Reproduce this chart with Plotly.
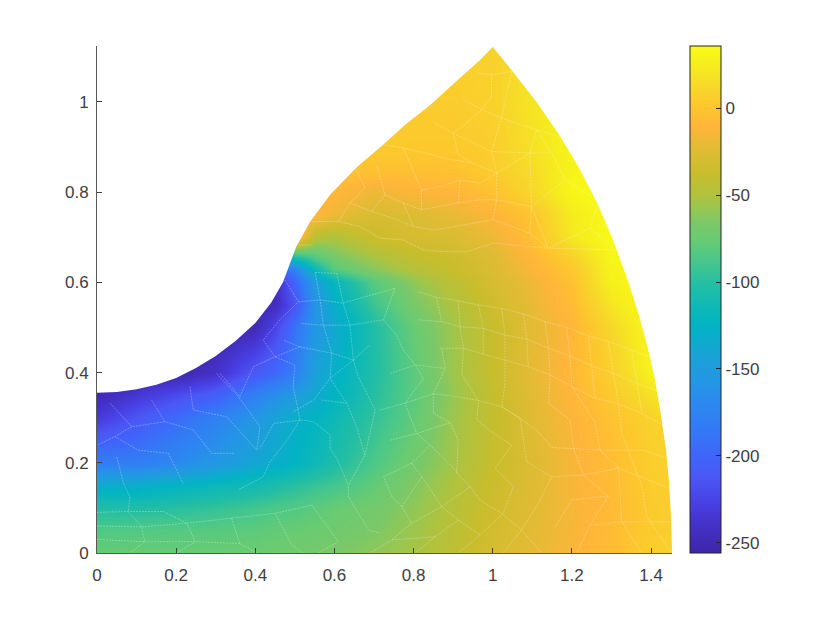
import plotly.graph_objects as go

# field, rows go bottom to top
grid_x = [0, 0.1, 0.2, 0.3, 0.4, 0.45, 0.5, 0.55, 0.6, 0.7, 0.8, 0.9, 1.0, 1.1, 1.2, 1.3, 1.4, 1.5]
grid_y = [0, 0.05, 0.1, 0.15, 0.2, 0.3, 0.35, 0.4, 0.5, 0.55, 0.6, 0.63, 0.65, 0.7, 0.75, 0.8, 0.85, 0.9, 1.0, 1.13]
grid_z = [
    [-76, -76, -76, -75, -74, -72, -70, -68, -66, -60, -53, -43, -30, -21, -13, -5, 6, 9],
    [-85, -84, -83, -82, -80, -78, -76, -74, -72, -66, -56, -45, -32, -23, -14, -6, 4, 8],
    [-103, -103, -100, -95, -90, -86, -84, -80, -76, -70, -60, -47, -34, -24, -14, -7, 4, 8],
    [-132, -132, -125, -118, -112, -106, -100, -94, -90, -78, -64, -50, -36, -25, -14, -6, 5, 8],
    [-180, -180, -170, -155, -140, -132, -125, -115, -105, -86, -70, -54, -38, -26, -14, -5, 6, 10],
    [-232, -212, -196, -178, -157, -143, -130, -125, -115, -96, -78, -56, -40, -24, -12, -2, 9, 12],
    [-250, -235, -220, -205, -178, -165, -150, -137, -125, -100, -80, -58, -40, -23, -10, 3, 18, 24],
    [-254, -254, -254, -240, -210, -198, -180, -145, -130, -103, -80, -56, -38, -21, -8, 7, 28, 33],
    [-254, -254, -254, -254, -248, -225, -190, -155, -138, -103, -75, -55, -38, -23, -10, 12, 33, 35],
    [-254, -254, -254, -254, -250, -245, -215, -160, -130, -92, -68, -50, -34, -20, -6, 20, 35, 35],
    [-254, -254, -254, -254, -250, -245, -200, -150, -120, -82, -60, -44, -30, -17, -2, 28, 35, 35],
    [-254, -254, -254, -254, -230, -210, -175, -115, -82, -62, -47, -37, -27, -12, 2, 30, 35, 35],
    [-254, -254, -254, -254, -200, -170, -120, -90, -72, -55, -42, -36, -26, -10, 6, 31, 35, 35],
    [5, 5, 5, 5, 5, 5, 5, -45, -50, -35, -30, -28, -18, -3, 22, 35, 35, 35],
    [-10, -10, -10, -10, -10, -10, -10, -10, -18, -30, -27, -20, -12, 0, 24, 35, 35, 35],
    [-8, -8, -8, -8, -8, -8, -8, -8, -8, -18, -12, -10, -2, 12, 32, 35, 35, 35],
    [-2, -2, -2, -2, -2, -2, -2, -2, -2, -2, -3, -2, 5, 15, 30, 35, 35, 35],
    [3, 3, 3, 3, 3, 3, 3, 3, 3, 3, 3, 3, 6, 18, 30, 35, 35, 35],
    [5, 5, 5, 5, 5, 5, 5, 5, 5, 5, 5, 5, 8, 20, 30, 35, 35, 35],
    [8, 8, 8, 8, 8, 8, 8, 8, 8, 8, 8, 8, 8, 20, 30, 35, 35, 35],
]

# outline of the domain
edge_x = [0, 0.05, 0.1, 0.15, 0.2, 0.25, 0.3, 0.35, 0.4, 0.44, 0.47, 0.49, 0.503, 0.538, 0.589, 0.657, 0.723, 0.778, 0.842,
          0.917, 0.968, 1.0, 1.051, 1.112, 1.168, 1.218, 1.264, 1.304, 1.339, 1.367, 1.39, 1.41, 1.425, 1.438, 1.446, 1.451, 1.453]
edge_y = [0.355, 0.357, 0.363, 0.373, 0.388, 0.41, 0.437, 0.47, 0.51, 0.555, 0.6, 0.645, 0.678, 0.734, 0.794, 0.856, 0.905, 0.949, 0.993,
          1.053, 1.093, 1.122, 1.067, 0.998, 0.927, 0.854, 0.776, 0.694, 0.61, 0.534, 0.461, 0.384, 0.306, 0.228, 0.151, 0.073, 0]
outside_x = [1.6, 1.6, -0.1, -0.1]
outside_y = [0, 1.3, 1.3, 0.355]

# element edges showing through the surface
seams = [
    [(.812, .579), (.858, .567), (.913, .559), (.964, .550), (1.023, .542), (1.078, .530), (1.132, .513), (1.187, .500), (1.242, .481), (1.292, .469), (1.351, .450), (1.402, .432)],
    [(.812, .517), (.871, .513), (.917, .502), (.976, .498), (1.031, .483), (1.086, .474), (1.141, .454), (1.195, .437), (1.250, .415), (1.305, .398), (1.364, .376), (1.419, .358)],
    [(.867, .454), (.926, .454), (.976, .441), (1.031, .428), (1.090, .413), (1.145, .395), (1.200, .369), (1.259, .343), (1.313, .332), (1.377, .310), (1.436, .280)],
    [(.850, .353), (.905, .347), (.964, .338), (1.023, .324), (1.069, .299), (1.115, .269), (1.149, .234), (1.204, .232), (1.276, .228), (1.381, .228), (1.441, .210)],
    [(.871, .454), (.880, .409), (.850, .353), (.850, .310), (.892, .289), (.913, .250), (.909, .177), (.943, .147), (.968, .117), (1.023, .088), (1.073, .051), (1.124, 0)],
    [(.917, .502), (.926, .454), (.922, .395), (.964, .338), (.960, .295), (.997, .269), (1.048, .239), (1.006, .188), (1.052, .147), (1.027, .088), (.968, .040), (.913, 0)],
    [(1.031, .483), (1.031, .432), (1.031, .376), (1.023, .324), (1.069, .299), (1.086, .202), (1.149, .169), (1.115, .110), (1.073, .051)],
    [(1.141, .454), (1.145, .395), (1.141, .332), (1.195, .295), (1.204, .232), (1.229, .173), (1.292, .126), (1.246, .062), (1.212, 0)],
    [(1.195, .437), (1.200, .369), (1.259, .289), (1.271, .228), (1.318, .188), (1.326, .069), (1.377, 0)],
    [(1.305, .398), (1.318, .332), (1.326, .265), (1.377, .149), (1.389, .081), (1.452, 0)],
    [(1.158, .058), (1.200, .118), (1.292, .126)],
    [(1.027, 0), (1.073, .051)],
    [(1.246, .062), (1.326, .069), (1.452, .069)],
    [(1.149, .169), (1.229, .173), (1.318, .188), (1.448, .143)],
    [(.083, .125), (.079, .092), (.113, .058), (.121, .025), (.083, 0)],
    [(.168, .092), (.227, .066), (.248, .025), (.201, 0)],
    [(.340, .077), (.361, .021), (.404, 0)],
    [(.450, .088), (.492, .018), (.521, 0)],
    [(.543, .106), (.610, .025), (.559, 0)],
    [(.635, .147), (.635, .125), (.686, .051), (.715, .044)],
    [(.050, .213), (.067, .154), (.083, .125)],
    [(.513, .295), (.480, .250), (.437, .202), (.420, .169), (.357, .140)],
    [(.635, .150), (.606, .210), (.589, .232), (.589, .262), (.547, .291), (.517, .295), (.446, .287), (.412, .232)],
    [(.677, .217), (.656, .280), (.631, .332), (.589, .387), (.547, .339), (.496, .313)],
    [(.311, .398), (.361, .347), (.395, .413), (.450, .435), (.513, .457)],
    [(.450, .435), (.420, .472), (.462, .517), (.509, .557), (.475, .605)],
    [(.513, .457), (.471, .472)],
    [(.509, .557), (.564, .561), (.622, .554)],
    [(.551, .622), (.606, .620)],
    [(.917, .827), (.968, .820), (1.010, .842), (1.052, .864), (1.094, .887), (1.149, .887)],
    [(.820, .805), (.871, .813), (.917, .827)],
    [(.774, .776), (.820, .761), (.913, .776), (.968, .783), (1.010, .783), (1.098, .768), (1.183, .827)],
    [(.728, .794), (.774, .776), (.799, .724), (.850, .716), (.905, .724), (1.001, .739), (1.094, .709), (1.140, .676)],
    [(.639, .776), (.694, .757), (.749, .742), (.799, .724)],
    [(.610, .735), (.664, .724), (.715, .698), (.774, .694), (.825, .672), (.879, .668), (.934, .668), (1.001, .687), (1.090, .680)],
    [(.723, .905), (.774, .898), (.829, .887), (.879, .875), (.951, .864), (1.010, .842)],
    [(.854, .953), (.900, .931), (.951, .909), (.997, .890), (1.094, .887)],
    [(.926, 1.005), (.972, .983), (1.022, .964), (1.111, .938), (1.170, .923)],
    [(.959, 1.064), (.997, 1.060), (1.048, 1.068)],
    [(.997, 1.060), (.997, 1.012), (.972, .983), (.934, .953), (.900, .931), (.913, .883), (.951, .864)],
    [(1.048, 1.068), (1.022, .964), (.997, .890), (1.010, .842), (1.010, .783)],
    [(1.111, .938), (1.094, .887), (1.098, .768), (1.140, .676)],
    [(1.183, .827), (1.149, .887), (1.111, .938)],
    [(1.183, .827), (1.267, .779), (1.246, .720), (1.140, .676)],
    [(1.246, .720), (1.313, .672)],
    [(.917, .827), (.913, .776)],
    [(.820, .805), (.820, .761)],
    [(.774, .898), (.820, .805)],
    [(.707, .857), (.728, .794), (.694, .757)],
    [(.656, .850), (.677, .809), (.639, .776), (.610, .735)],
    [(.542, .735), (.610, .735)],
    [(.509, .683), (.542, .683)],
    [(.753, .587), (.724, .517), (.757, .483), (.774, .450), (.804, .417), (.825, .387), (.778, .332), (.808, .265), (.842, .239), (.913, .177)],
    [(.741, .398), (.804, .417), (.880, .409)],
    [(.715, .317), (.778, .332), (.850, .353)],
    [(.741, .250), (.808, .265), (.892, .289)],
    [(.745, .125), (.770, .103), (.795, .066), (.745, .029), (.690, 0)],
    [(.795, .199), (.821, .169), (.770, .103)],
    [(.795, .199), (.724, .169), (.745, .125)],
    [(.842, .239), (.795, .199)],
    [(.821, .169), (.871, .103), (.913, .073), (.968, .040)],
    [(.871, .103), (.795, .066)],
    [(.913, .073), (.854, .036), (.804, 0)],
    [(.745, .029), (.854, .036)],
    [(.943, .147), (.871, .103)],
    [(.450, .435), (.500, .417), (.496, .369), (.513, .295)],
    [(.302, .398), (.357, .347), (.412, .280), (.404, .228)],
    [(.235, .369), (.243, .317), (.328, .302), (.404, .228)],
    [(.138, .339), (.172, .291), (.243, .273), (.290, .221), (.349, .221)],
    [(.033, .332), (.088, .280), (.172, .291)],
    [(.045, .258), (.104, .228), (.180, .221), (.218, .154)],
    [(.088, .280), (.045, .258), (0, .239)],
    [(.589, .387), (.648, .428), (.690, .461)],
    [(.648, .428), (.660, .391), (.703, .317), (.677, .217), (.635, .150)],
    [(.568, .339), (.631, .332)],
    [(0, .09), (.079, .092), (.168, .092)],
    [(0, .06), (.113, .058), (.227, .066)],
    [(0, .03), (.121, .025), (.248, .025), (.361, .021)],
    [(.227, .066), (.340, .077), (.450, .088), (.543, .106)],
    [(.551, .622), (.564, .561), (.572, .505), (.593, .443), (.589, .387)],
    [(.606, .620), (.622, .554), (.639, .505), (.648, .428)],
    [(.517, .509), (.572, .505), (.639, .505), (.724, .517)],
    [(.513, .457), (.593, .443), (.648, .428)],
    [(.622, .554), (.753, .587)],
    [(1.402, .432), (1.419, .358), (1.436, .280)],
    [(1.351, .450), (1.364, .376), (1.377, .310)],
    [(1.292, .469), (1.305, .398)],
    [(1.242, .481), (1.250, .415), (1.259, .343)],
    [(1.187, .500), (1.195, .437)],
    [(1.132, .513), (1.141, .454)],
    [(1.078, .530), (1.086, .474), (1.090, .413)],
    [(1.023, .542), (1.031, .483)],
    [(.964, .550), (.976, .498), (.976, .441)],
    [(.913, .559), (.917, .502)],
    [(.858, .567), (.871, .513)],
    [(1.001, .739), (1.010, .783)],
    [(1.094, .709), (1.098, .768)],
    [(1.090, .680), (1.140, .676), (1.313, .672)],
]

z_min = -256
z_max = 36
bar_ticks = [0, -50, -100, -150, -200, -250]
bar_labels = ["0", "-50", "-100", "-150", "-200", "-250"]
x_ticks = [0, 0.2, 0.4, 0.6, 0.8, 1, 1.2, 1.4]
y_ticks = [0, 0.2, 0.4, 0.6, 0.8, 1]

parula = [
    [0.0, "#3e26a8"], [0.05, "#4430c5"], [0.1, "#4840e4"], [0.15, "#4a58f5"], [0.19, "#3f64fa"],
    [0.24, "#3478f6"], [0.29, "#2d87f0"], [0.33, "#2494e6"], [0.37, "#1e9ddc"], [0.41, "#10a9cf"],
    [0.45, "#02b4c2"], [0.49, "#11b9b4"], [0.53, "#23bea4"], [0.58, "#4bc888"], [0.62, "#69cb72"],
    [0.65, "#7ac868"], [0.68, "#98c750"], [0.705, "#b0c23e"], [0.75, "#c9bd2c"], [0.8, "#e3bb34"],
    [0.84, "#ffb53a"], [0.88, "#fdc62e"], [0.92, "#f7d82a"], [0.96, "#f6ec1e"], [1.0, "#f9fb15"],
]

seam_x = []
seam_y = []
for chain in seams:
    seam_x += [p[0] for p in chain] + [None]
    seam_y += [p[1] for p in chain] + [None]

font = dict(family="Liberation Sans", size=17, color="#404040")

fig = go.Figure()
fig.add_trace(go.Heatmap(
    x=grid_x, y=grid_y, z=grid_z, zmin=z_min, zmax=z_max, zsmooth="best", colorscale=parula,
    colorbar=dict(x=1.031, xanchor="left", xpad=0, y=0, yanchor="bottom", ypad=0, len=1, thickness=31,
                  tickmode="array", tickvals=bar_ticks, ticktext=bar_labels, ticks="inside", ticklen=5,
                  tickcolor="#262626", outlinecolor="#262626", outlinewidth=1, tickfont=font),
    hoverinfo="skip",
))
fig.add_trace(go.Scatter(
    x=seam_x, y=seam_y, mode="lines", line=dict(color="white", width=0.7, dash="2px,1px"), opacity=0.4,
    hoverinfo="skip", showlegend=False,
))
# white cover for everything outside the domain
fig.add_trace(go.Scatter(
    x=edge_x + outside_x, y=edge_y + outside_y, mode="lines", fill="toself", fillcolor="white",
    line=dict(color="white", width=0), hoverinfo="skip", showlegend=False,
))

axis = dict(showgrid=False, zeroline=False, showline=True, linecolor="#595959", linewidth=1, ticks="inside",
            ticklen=5, tickcolor="#404040", tickfont=font, tickmode="array")
fig.update_xaxes(axis, range=[0, 1.453], tickvals=x_ticks, ticklabelstandoff=7)
fig.update_yaxes(axis, range=[0, 1.124], tickvals=y_ticks, ticklabelstandoff=4)
fig.update_layout(width=822, height=615, margin=dict(l=89, r=158, t=38, b=70), plot_bgcolor="white",
                  paper_bgcolor="white", showlegend=False)

fig.write_html("out.html")
